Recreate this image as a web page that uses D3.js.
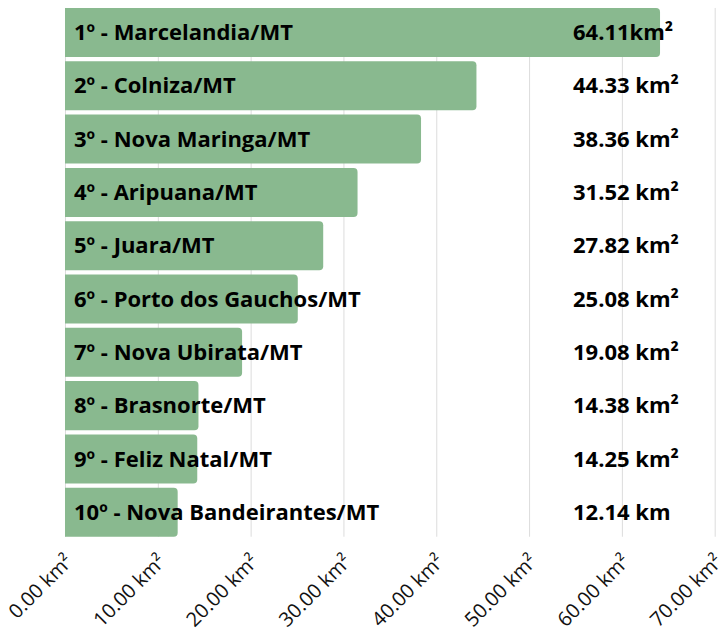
<!DOCTYPE html>
<html>
<head>
<meta charset="utf-8">
<script src="https://cdn.jsdelivr.net/npm/d3@7"></script>
<style>
  body { margin: 0; background: #fff; }
  text { font-family: "Open Sans", sans-serif; }
</style>
</head>
<body>
<div id="chart"></div>
<script>
// top deforestation by municipality
const categories = [
    "1º - Marcelandia/MT",
    "2º - Colniza/MT",
    "3º - Nova Maringa/MT",
    "4º - Aripuana/MT",
    "5º - Juara/MT",
    "6º - Porto dos Gauchos/MT",
    "7º - Nova Ubirata/MT",
    "8º - Brasnorte/MT",
    "9º - Feliz Natal/MT",
    "10º - Nova Bandeirantes/MT"
];
const values = [64.11, 44.33, 38.36, 31.52, 27.82, 25.08, 19.08, 14.38, 14.25, 12.14];
const valueLabels = [
    "64.11km²", "44.33 km²", "38.36 km²", "31.52 km²", "27.82 km²",
    "25.08 km²", "19.08 km²", "14.38 km²", "14.25 km²", "12.14 km"
];
const ticks = [0, 10, 20, 30, 40, 50, 60, 70];
const tickLabels = ["0.00 km²", "10.00 km²", "20.00 km²", "30.00 km²", "40.00 km²", "50.00 km²", "60.00 km²", "70.00 km²"];

const width = 723;
const height = 628;
const margin = {top: 3.7, right: 8, bottom: 87, left: 65};

const data = categories.map((c, i) => ({name: c, value: values[i], label: valueLabels[i]}));

const svg = d3.select("#chart")
    .append("svg")
    .attr("width", width)
    .attr("height", height);

const x = d3.scaleLinear()
    .domain([0, 70])
    .range([margin.left, 714.7]);

const y = d3.scaleBand()
    .domain(categories)
    .range([margin.top, height - margin.bottom])
    .padding(0.08);

const gridTop = y(categories[0]);
const gridBottom = y(categories[categories.length - 1]) + y.bandwidth();

// gridlines
svg.append("g")
    .selectAll("line")
    .data(ticks)
    .enter()
    .append("line")
    .attr("x1", d => x(d) + 0.5)
    .attr("x2", d => x(d) + 0.5)
    .attr("y1", gridTop)
    .attr("y2", gridBottom)
    .attr("stroke", "#dcdcdc")
    .attr("stroke-width", 1);

// bars, rounded on the right side only
function barPath(d) {
    const x0 = x(0), x1 = x(d.value), y0 = y(d.name), h = y.bandwidth();
    const r = 4;
    return `M${x0},${y0}H${x1 - r}Q${x1},${y0} ${x1},${y0 + r}V${y0 + h - r}Q${x1},${y0 + h} ${x1 - r},${y0 + h}H${x0}Z`;
}

svg.selectAll(".bar")
    .data(data)
    .enter()
    .append("path")
    .attr("class", "bar")
    .attr("d", barPath)
    .attr("fill", "#89b98f");

// category labels inside the bars
svg.selectAll(".label")
    .data(data)
    .enter()
    .append("text")
    .attr("class", "label")
    .attr("x", x(0) + 9)
    .attr("y", d => y(d.name) + y.bandwidth() / 2)
    .attr("dy", ".35em")
    .attr("fill", "#000")
    .style("font-size", "22px")
    .style("font-weight", "700")
    .text(d => d.name);

// values on the right
svg.selectAll(".count")
    .data(data)
    .enter()
    .append("text")
    .attr("class", "count")
    .attr("x", 573)
    .attr("y", d => y(d.name) + y.bandwidth() / 2)
    .attr("dy", ".35em")
    .attr("fill", "#000")
    .style("font-size", "22px")
    .style("font-weight", "700")
    .text(d => d.label);

// rotated axis labels
svg.append("g")
    .selectAll("text")
    .data(ticks)
    .enter()
    .append("text")
    .attr("transform", d => `translate(${x(d) + 9},${gridBottom + 26}) rotate(-45)`)
    .attr("text-anchor", "end")
    .attr("fill", "#111")
    .style("font-size", "20px")
    .text((d, i) => tickLabels[i]);
</script>
</body>
</html>
